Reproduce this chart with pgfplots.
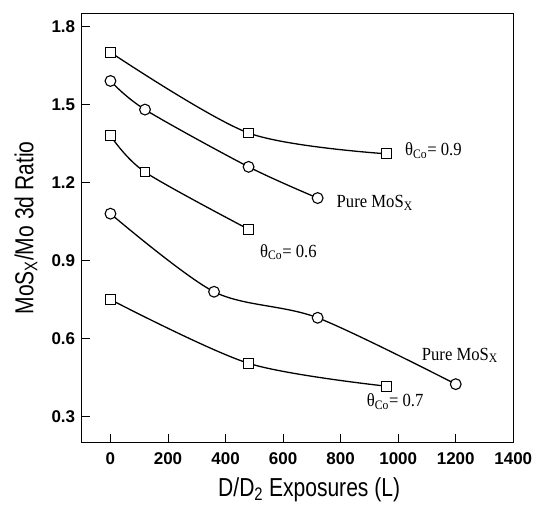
\documentclass[border=0pt]{standalone}
\usepackage{fontspec}
\setmainfont{Liberation Serif}
\newfontfamily\sansfont{Liberation Sans}
\newfontfamily\labelfont[FakeStretch=0.81]{Liberation Sans}
\newfontfamily\annfont[FakeStretch=0.9]{Liberation Serif}
\usepackage{pgfplots}
\pgfplotsset{compat=1.18}
\begin{document}
\begin{tikzpicture}
\begin{axis}[name=ax, scale only axis, width=431.6pt, height=429.4pt,
  xmin=-100, xmax=1400, ymin=0.2, ymax=1.85,
  xtick={0,200,...,1400}, ytick={0.3,0.6,0.9,1.2,1.5,1.8},
  tick align=inside, major tick length=8.5pt, xtick pos=left, ytick pos=left,
  tick style={line width=1pt, black},
  axis line style={line width=1.2pt},
  /pgf/number format/assume math mode=true,
  scaled ticks=false,
  ticklabel style={font=\sansfont\bfseries\fontsize{17}{20}\selectfont},
  yticklabel={\pgfmathprintnumber[fixed, fixed zerofill, precision=1]{\tick}},
  xticklabel={\pgfmathprintnumber[fixed, precision=0, 1000 sep={}]{\tick}},
  yticklabel style={anchor=east, xshift=-3pt},
  xticklabel style={anchor=north, yshift=-6pt},
  xlabel={D/D\textsubscript{2} Exposures (L)},
  ylabel={MoS\textsubscript{X}/Mo 3d Ratio},
  xlabel style={at={([yshift=-54pt]axis description cs:0.527,0)}, anchor=base, font=\labelfont\fontsize{26}{30}\selectfont},
  ylabel style={at={([xshift=-48.4pt]axis description cs:0,0.5)}, anchor=base, font=\labelfont\fontsize{26}{30}\selectfont},
  every axis plot/.append style={smooth, line width=1.3pt, black},
]
\addplot[mark=square*, mark options={fill=white, line width=1.1pt, mark size=4.9pt}] coordinates {(0,1.70) (480,1.39) (960,1.31)};
\addplot[mark=*, mark options={fill=white, line width=1.1pt, mark size=5.4pt}] coordinates {(0,1.59) (120,1.48) (480,1.26) (720,1.14)};
\addplot[mark=square*, mark options={fill=white, line width=1.1pt, mark size=4.9pt}] coordinates {(0,1.38) (120,1.24) (480,1.02)};
\addplot[mark=*, mark options={fill=white, line width=1.1pt, mark size=5.4pt}] coordinates {(0,1.08) (360,0.78) (720,0.68) (1200,0.425)};
\addplot[mark=square*, mark options={fill=white, line width=1.1pt, mark size=4.9pt}] coordinates {(0,0.75) (480,0.505) (960,0.417)};
\node[anchor=base west, font=\annfont\fontsize{18.5}{20}\selectfont] at (axis cs:1012,1.302) {θ\textsubscript{Co}= 0.9};
\node[anchor=base west, font=\annfont\fontsize{18.5}{20}\selectfont] at (axis cs:774,1.102) {Pure MoS\textsubscript{X}};
\node[anchor=base west, font=\annfont\fontsize{18.5}{20}\selectfont] at (axis cs:508,0.913) {θ\textsubscript{Co}= 0.6};
\node[anchor=base west, font=\annfont\fontsize{18.5}{20}\selectfont] at (axis cs:1070,0.517) {Pure MoS\textsubscript{X}};
\node[anchor=base west, font=\annfont\fontsize{18.5}{20}\selectfont] at (axis cs:879,0.338) {θ\textsubscript{Co}= 0.7};
\end{axis}
\pgfresetboundingbox
\useasboundingbox ([shift={(-81.7pt,-61.3pt)}]ax.south west) rectangle ([shift={(19.7pt,13.3pt)}]ax.north east);
\end{tikzpicture}
\end{document}
